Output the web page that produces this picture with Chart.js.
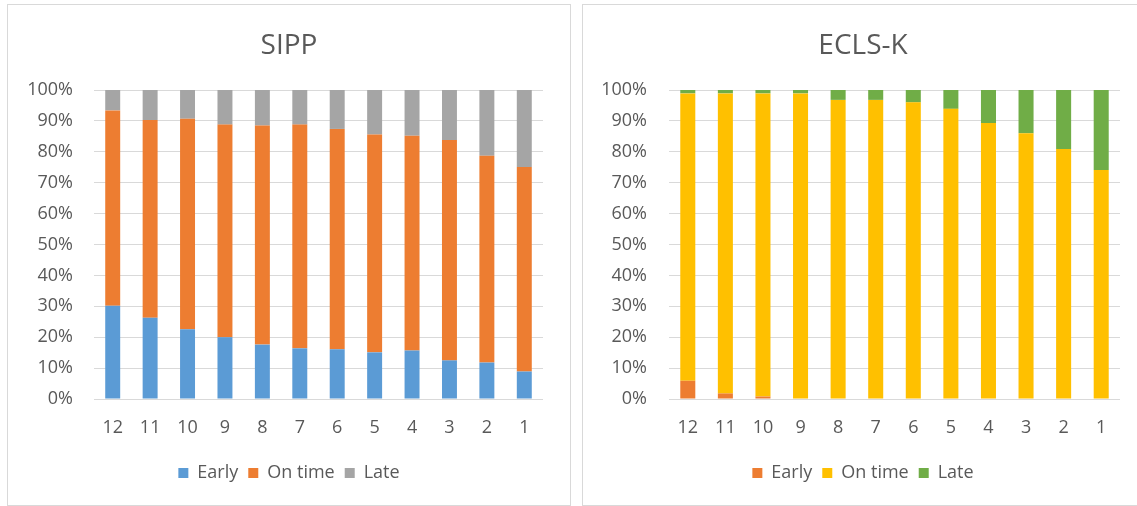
<!DOCTYPE html>
<html>
<head>
<meta charset="utf-8">
<title>Timing of transitions: SIPP and ECLS-K</title>
<script src="https://cdn.jsdelivr.net/npm/chart.js@4.4.1/dist/chart.umd.min.js"></script>
<style>
  html, body { margin: 0; padding: 0; background: #ffffff; }
  body { width: 1137px; height: 506px; position: relative; overflow: hidden; }
  .panel { position: absolute; top: 4px; height: 502px; box-sizing: border-box; border: 1px solid #d9d9d9; background: #fff; }
  #panelLeft { left: 7px; width: 564px; }
  #panelRight { left: 582px; width: 562px; }
  canvas { display: block; }
</style>
</head>
<body>
<div class="panel" id="panelLeft"><canvas id="sipp" width="562" height="500"></canvas></div>
<div class="panel" id="panelRight"><canvas id="eclsk" width="560" height="500"></canvas></div>
<script>
// Categories along the x axis (descending order, as listed)
const categories = ['12', '11', '10', '9', '8', '7', '6', '5', '4', '3', '2', '1'];

// SIPP shares, in percent
const sippEarly  = [30.2, 26.3, 22.6, 20.0, 17.6, 16.4, 16.1, 15.1, 15.7, 12.5, 11.8, 8.9];
const sippOnTime = [63.2, 64.0, 68.1, 68.8, 70.9, 72.4, 71.3, 70.5, 69.5, 71.3, 66.9, 66.2];
const sippLate   = [6.6, 9.7, 9.3, 11.2, 11.5, 11.2, 12.6, 14.4, 14.8, 16.2, 21.3, 24.9];

// ECLS-K shares, in percent
const ecEarly  = [5.9, 1.8, 0.8, 0, 0, 0, 0, 0, 0, 0, 0, 0];
const ecOnTime = [93.0, 97.1, 98.1, 98.9, 96.8, 96.8, 96.0, 93.9, 89.3, 86.0, 80.9, 74.1];
const ecLate   = [1.1, 1.1, 1.1, 1.1, 3.2, 3.2, 4.0, 6.1, 10.7, 14.0, 19.1, 25.9];

// Value axis ticks
const yTicks = [0, 10, 20, 30, 40, 50, 60, 70, 80, 90, 100];

const FONT = '"Open Sans", "Noto Sans", sans-serif';
const TEXT = '#595959';
const GRID = '#d9d9d9';

function buildChart(canvasId, title, series, colors, tickPad, rightReserve) {
  const datasets = series.map((s, i) => ({
    label: s.label,
    data: s.data,
    backgroundColor: colors[i],
    borderWidth: 0,
    barPercentage: 0.4,
    categoryPercentage: 1.0
  }));

  return new Chart(document.getElementById(canvasId), {
    type: 'bar',
    data: { labels: categories, datasets },
    options: {
      responsive: false,
      animation: false,
      layout: { padding: { left: 0, right: 0, top: 0, bottom: 13 } },
      plugins: {
        tooltip: { enabled: false },
        title: {
          display: true,
          text: title,
          color: TEXT,
          font: { family: FONT, size: 28, weight: 'normal' },
          padding: { top: 24, bottom: 27.4 }
        },
        legend: {
          position: 'bottom',
          labels: {
            color: TEXT,
            font: { family: FONT, size: 18 },
            boxWidth: 10,
            boxHeight: 10,
            padding: 10
          }
        }
      },
      scales: {
        x: {
          stacked: true,
          grid: { display: false, drawTicks: false },
          border: { display: false },
          ticks: { color: TEXT, font: { family: FONT, size: 18 }, padding: 18, maxRotation: 0 },
          afterFit(scale) { scale.height = 55; }
        },
        y: {
          stacked: true,
          min: 0,
          max: 100,
          afterBuildTicks(scale) { scale.ticks = yTicks.map(v => ({ value: v })); },
          grid: { color: GRID, lineWidth: 1, drawTicks: false },
          border: { display: false },
          ticks: {
            color: TEXT,
            font: { family: FONT, size: 18 },
            padding: tickPad,
            callback: v => v + '%'
          },
          afterFit(scale) { scale.width = 86; }
        },
        spacer: {
          type: 'linear',
          position: 'right',
          display: true,
          grid: { display: false, drawTicks: false },
          border: { display: false },
          ticks: { display: false },
          afterFit(scale) { scale.width = rightReserve; }
        }
      }
    }
  });
}

buildChart('sipp', 'SIPP', [
  { label: 'Early', data: sippEarly },
  { label: 'On time', data: sippOnTime },
  { label: 'Late', data: sippLate }
], ['#5B9BD5', '#ED7D31', '#A5A5A5'], 21, 27);

buildChart('eclsk', 'ECLS-K', [
  { label: 'Early', data: ecEarly },
  { label: 'On time', data: ecOnTime },
  { label: 'Late', data: ecLate }
], ['#ED7D31', '#FFC000', '#70AD47'], 22, 23);
</script>
</body>
</html>
